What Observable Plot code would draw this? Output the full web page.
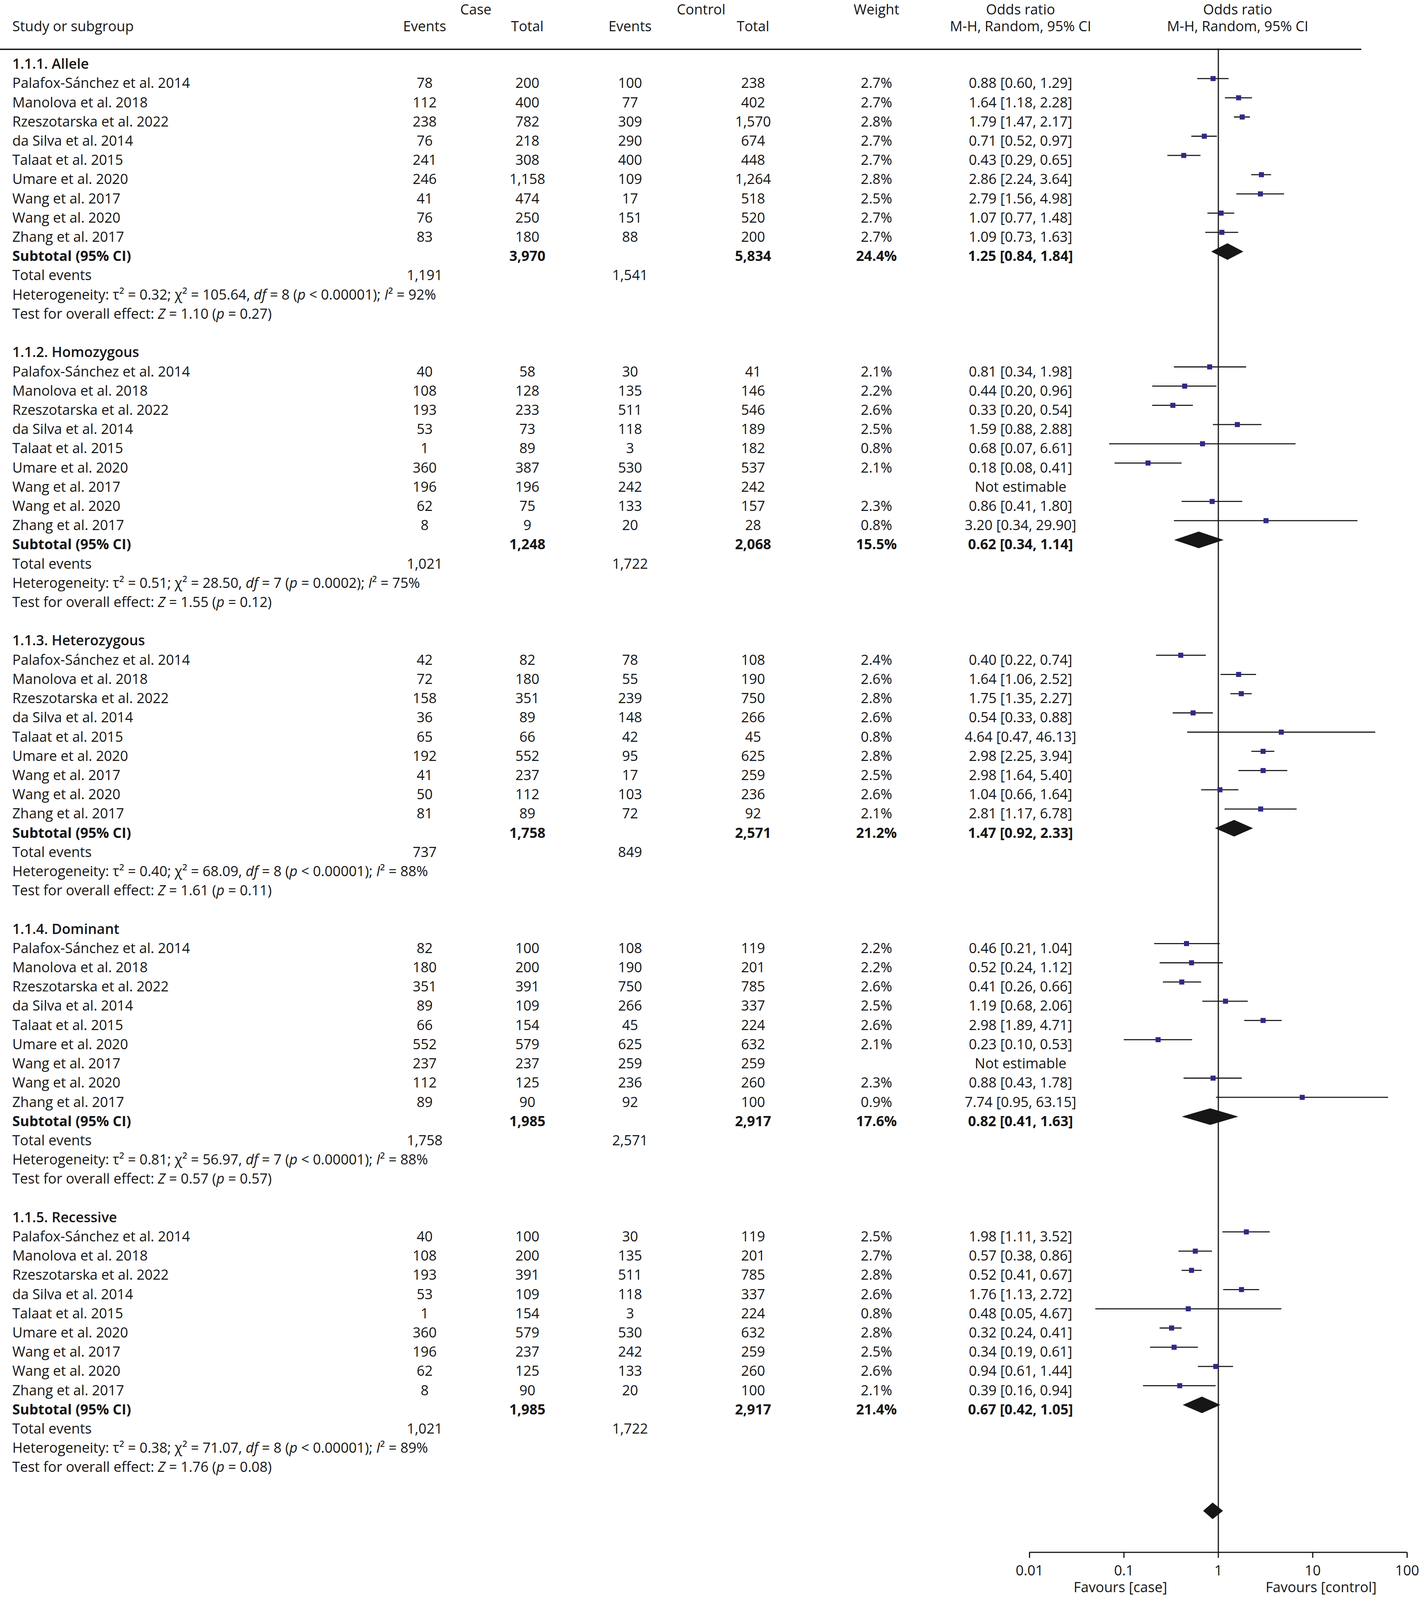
<!DOCTYPE html>
<html><head><meta charset="utf-8">
<script src="https://cdn.jsdelivr.net/npm/d3@7"></script>
<script src="https://cdn.jsdelivr.net/npm/@observablehq/plot@0.6"></script>
<style>
html,body{margin:0;padding:0;background:#fff;overflow:hidden;}
#chart{position:relative;width:3639px;overflow:hidden;}
#chart svg{position:absolute;left:0;top:0;max-width:none;}
</style></head><body><div id="chart"></div>
<script>
// ---------------- DATA ----------------
const studies = ["Palafox-Sánchez et al. 2014","Manolova et al. 2018","Rzeszotarska et al. 2022","da Silva et al. 2014","Talaat et al. 2015","Umare et al. 2020","Wang et al. 2017","Wang et al. 2020","Zhang et al. 2017"];
const subgroups = ["1.1.1. Allele","1.1.2. Homozygous","1.1.3. Heterozygous","1.1.4. Dominant","1.1.5. Recessive"];
const caseEvents = [
  [78,112,238,76,241,246,41,76,83],
  [40,108,193,53,1,360,196,62,8],
  [42,72,158,36,65,192,41,50,81],
  [82,180,351,89,66,552,237,112,89],
  [40,108,193,53,1,360,196,62,8]];
const caseTotal = [
  [200,400,782,218,308,1158,474,250,180],
  [58,128,233,73,89,387,196,75,9],
  [82,180,351,89,66,552,237,112,89],
  [100,200,391,109,154,579,237,125,90],
  [100,200,391,109,154,579,237,125,90]];
const ctrlEvents = [
  [100,77,309,290,400,109,17,151,88],
  [30,135,511,118,3,530,242,133,20],
  [78,55,239,148,42,95,17,103,72],
  [108,190,750,266,45,625,259,236,92],
  [30,135,511,118,3,530,242,133,20]];
const ctrlTotal = [
  [238,402,1570,674,448,1264,518,520,200],
  [41,146,546,189,182,537,242,157,28],
  [108,190,750,266,45,625,259,236,92],
  [119,201,785,337,224,632,259,260,100],
  [119,201,785,337,224,632,259,260,100]];
const weights = [
  [2.7,2.7,2.8,2.7,2.7,2.8,2.5,2.7,2.7],
  [2.1,2.2,2.6,2.5,0.8,2.1,null,2.3,0.8],
  [2.4,2.6,2.8,2.6,0.8,2.8,2.5,2.6,2.1],
  [2.2,2.2,2.6,2.5,2.6,2.1,null,2.3,0.9],
  [2.5,2.7,2.8,2.6,0.8,2.8,2.5,2.6,2.1]];
const orEst = [
  [0.88,1.64,1.79,0.71,0.43,2.86,2.79,1.07,1.09],
  [0.81,0.44,0.33,1.59,0.68,0.18,null,0.86,3.20],
  [0.40,1.64,1.75,0.54,4.64,2.98,2.98,1.04,2.81],
  [0.46,0.52,0.41,1.19,2.98,0.23,null,0.88,7.74],
  [1.98,0.57,0.52,1.76,0.48,0.32,0.34,0.94,0.39]];
const orLow = [
  [0.60,1.18,1.47,0.52,0.29,2.24,1.56,0.77,0.73],
  [0.34,0.20,0.20,0.88,0.07,0.08,null,0.41,0.34],
  [0.22,1.06,1.35,0.33,0.47,2.25,1.64,0.66,1.17],
  [0.21,0.24,0.26,0.68,1.89,0.10,null,0.43,0.95],
  [1.11,0.38,0.41,1.13,0.05,0.24,0.19,0.61,0.16]];
const orHigh = [
  [1.29,2.28,2.17,0.97,0.65,3.64,4.98,1.48,1.63],
  [1.98,0.96,0.54,2.88,6.61,0.41,null,1.80,29.90],
  [0.74,2.52,2.27,0.88,46.13,3.94,5.40,1.64,6.78],
  [1.04,1.12,0.66,2.06,4.71,0.53,null,1.78,63.15],
  [3.52,0.86,0.67,2.72,4.67,0.41,0.61,1.44,0.94]];
const subCaseTotal = [3970,1248,1758,1985,1985];
const subCtrlTotal = [5834,2068,2571,2917,2917];
const subWeight = [24.4,15.5,21.2,17.6,21.4];
const subOr = [1.25,0.62,1.47,0.82,0.67];
const subLow = [0.84,0.34,0.92,0.41,0.42];
const subHigh = [1.84,1.14,2.33,1.63,1.05];
const totCaseEvents = [1191,1021,737,1758,1021];
const totCtrlEvents = [1541,1722,849,2571,1722];
const tau2 = [0.32,0.51,0.40,0.81,0.38];
const chi2 = [105.64,28.50,68.09,56.97,71.07];
const dfs = [8,7,8,7,8];
const hetP = ["< 0.00001","= 0.0002","< 0.00001","< 0.00001","< 0.00001"];
const i2 = [92,75,88,88,89];
const zVal = [1.10,1.55,1.61,0.57,1.76];
const zP = [0.27,0.12,0.11,0.57,0.08];
const overallOr = [0.87, 0.69, 1.12]; // estimate, low, high (drawn without a label in the source)
const axisTicks = [0.01,0.1,1,10,100];
const favours = ["Favours [case]","Favours [control]"];

// ---------------- LAYOUT (reference frame 3639 x 4816, fitted to the viewport) ----------------
const W = 3639, REF_H = 4816;
const H = Math.min(REF_H, window.innerHeight || REF_H);
const k = H / REF_H;                       // vertical fit factor
const ROW0 = 193, ROWH = 57.86;            // reference px
const rowOf = px => (px - ROW0) / ROWH;    // reference px -> row units
const yScale = {type:"linear", domain:[0,73], range:[ROW0*k, (ROW0 + 73*ROWH)*k], axis:null};
const col = {study:31, caseE:1087, caseT:1350, ctrlE:1613, ctrlT:1928, weight:2244, or:2613, forest:3169, caseHead:1218, ctrlHead:1795};
const FS = 36, FONT = "'Open Sans', 'Noto Sans', sans-serif", INK = "#161616", MARK = "#2f2a85";
const markerShift = -15*k;
const fmt = d3.format(",");
const f2 = v => v.toFixed(2);
const orText = (e,l,h) => e == null ? "Not estimable" : `${f2(e)} [${f2(l)}, ${f2(h)}]`;

// ---------------- TABLE CELLS ----------------
const cells = [];
const add = (x,y,t,anchor="middle",w="normal") => cells.push({x,y,t,anchor,w});
const hTop = rowOf(29), hBot = rowOf(80);
add(col.caseHead,hTop,"Case"); add(col.ctrlHead,hTop,"Control"); add(col.weight,hTop,"Weight");
add(col.or,hTop,"Odds ratio"); add(col.forest,hTop,"Odds ratio");
add(col.study,hBot,"Study or subgroup","start");
add(col.caseE,hBot,"Events"); add(col.caseT,hBot,"Total"); add(col.ctrlE,hBot,"Events"); add(col.ctrlT,hBot,"Total");
add(col.or,hBot,"M-H, Random, 95% CI"); add(col.forest,hBot,"M-H, Random, 95% CI");

const studyPts = [], diamonds = [];
subgroups.forEach((g, gi) => {
  const base = gi*15;
  add(col.study, base, g, "start", "600");
  studies.forEach((s, si) => {
    const r = base + 1 + si;
    add(col.study, r, s, "start");
    add(col.caseE, r, String(caseEvents[gi][si]));
    add(col.caseT, r, fmt(caseTotal[gi][si]));
    add(col.ctrlE, r, String(ctrlEvents[gi][si]));
    add(col.ctrlT, r, fmt(ctrlTotal[gi][si]));
    if (weights[gi][si] != null) add(col.weight, r, weights[gi][si].toFixed(1) + "%");
    add(col.or, r, orText(orEst[gi][si], orLow[gi][si], orHigh[gi][si]));
    if (orEst[gi][si] != null) studyPts.push({row:r, or:orEst[gi][si], lo:orLow[gi][si], hi:orHigh[gi][si]});
  });
  const rs = base + 10;
  add(col.study, rs, "Subtotal (95% CI)", "start", "bold");
  add(col.caseT, rs, fmt(subCaseTotal[gi]), "middle", "bold");
  add(col.ctrlT, rs, fmt(subCtrlTotal[gi]), "middle", "bold");
  add(col.weight, rs, subWeight[gi].toFixed(1) + "%", "middle", "bold");
  add(col.or, rs, orText(subOr[gi], subLow[gi], subHigh[gi]), "middle", "bold");
  diamonds.push({id:"g"+gi, row:rs, or:subOr[gi], lo:subLow[gi], hi:subHigh[gi]});
  add(col.study, base+11, "Total events", "start");
  add(col.caseE, base+11, fmt(totCaseEvents[gi]));
  add(col.ctrlE, base+11, fmt(totCtrlEvents[gi]));
  add(col.study, base+12, `Heterogeneity: τ² = ${f2(tau2[gi])}; χ² = ${f2(chi2[gi])}, df = ${dfs[gi]} (p ${hetP[gi]}); I² = ${i2[gi]}%`, "start");
  add(col.study, base+13, `Test for overall effect: Z = ${f2(zVal[gi])} (p = ${f2(zP[gi])})`, "start");
});
diamonds.push({id:"overall", row:rowOf(4562), or:overallOr[0], lo:overallOr[1], hi:overallOr[2]});

const DH = 25 / ROWH; // diamond half-height in row units
const diamondPts = diamonds.flatMap(d => [
  {id:d.id, x:d.lo, y:d.row}, {id:d.id, x:d.or, y:d.row - DH},
  {id:d.id, x:d.hi, y:d.row}, {id:d.id, x:d.or, y:d.row + DH}]);

// ---------------- TABLE PLOT ----------------
const textMark = (anchor, w) => Plot.text(cells.filter(c => c.anchor === anchor && c.w === w),
  {x:"x", y:"y", text:"t", textAnchor:anchor, fontWeight:w, fontSize:FS, fill:INK});
const table = Plot.plot({
  width: W, height: H, margin: 0,
  x: {type:"identity", axis:null}, y: yScale,
  style: {fontFamily: FONT, fontSize: FS+"px", background:"transparent", overflow:"visible"},
  marks: [
    Plot.ruleY([rowOf(148)], {x1:0, x2:3486, stroke:INK, strokeWidth:3.5}),
    textMark("start","normal"), textMark("start","600"), textMark("start","bold"),
    textMark("middle","normal"), textMark("middle","bold")
  ]
});
// italic statistical symbols
d3.select(table).selectAll("text").each(function(){
  const s = this.textContent;
  if (!/^(Heterogeneity|Test for)/.test(s)) return;
  const parts = s.split(/(df|p(?= [<=])|Z(?= =)|I(?=²))/);
  const sel = d3.select(this); sel.text(null);
  parts.forEach(p => { if (!p) return; const t = sel.append("tspan").text(p);
    if (/^(df|p|Z|I)$/.test(p)) t.attr("font-style","italic"); });
});

// ---------------- FOREST PLOT ----------------
const axisRow = rowOf(4672), favRow = rowOf(4778);
const forest = Plot.plot({
  width: W, height: H, marginLeft: 2636, marginRight: 36, marginTop: 146*k, marginBottom: H - 4672*k,
  x: {type:"log", domain:[0.01,100]}, y: yScale,
  style: {fontFamily: FONT, fontSize: FS+"px", background:"transparent", overflow:"visible", color: INK},
  marks: [
    Plot.ruleX([1], {stroke:INK, strokeWidth:3}),
    Plot.ruleY([axisRow], {x1:0.01, x2:100, stroke:INK, strokeWidth:3}),
    Plot.axisX({anchor:"bottom", ticks:axisTicks, tickSize:17*k, tickPadding:22*k, tickFormat:d => String(d), strokeWidth:3, stroke:INK, fill:INK, fontSize:FS, label:null}),
    Plot.ruleY(studyPts, {y:"row", x1:"lo", x2:"hi", dy:markerShift, stroke:INK, strokeWidth:2.8}),
    Plot.dot(studyPts, {x:"or", y:"row", dy:markerShift, symbol:"square", r:7.3, fill:MARK, stroke:null}),
    Plot.line(diamondPts, {x:"x", y:"y", z:"id", dy:markerShift, fill:INK, stroke:"none", curve:"linear-closed"}),
    Plot.text([favours[0]], {x:1, y:favRow, text:d=>d, textAnchor:"end", dx:-131, fontSize:FS, fill:INK}),
    Plot.text([favours[1]], {x:1, y:favRow, text:d=>d, textAnchor:"start", dx:121, fontSize:FS, fill:INK})
  ]
});
const chart = document.getElementById("chart");
chart.style.height = H + "px";
chart.append(table, forest);
</script></body></html>
